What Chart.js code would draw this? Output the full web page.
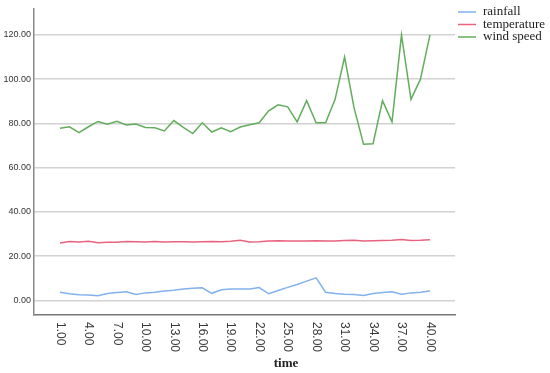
<!DOCTYPE html>
<html>
<head>
<meta charset="utf-8">
<script src="https://cdn.jsdelivr.net/npm/chart.js@4.4.1/dist/chart.umd.min.js"></script>
<style>
  html, body { margin: 0; padding: 0; background: #fff; }
  canvas { display: block; }
</style>
</head>
<body>
<canvas id="chart" width="550" height="373"></canvas>
<script>
// time steps 1..40
const times = [];
for (let t = 1; t <= 40; t++) times.push(t);

const rainfall = [3.7, 3.0, 2.5, 2.4, 2.1, 3.1, 3.6, 3.9, 2.7, 3.4,
                  3.7, 4.2, 4.6, 5.1, 5.5, 5.7, 3.2, 4.8, 5.1, 5.1,
                  5.2, 5.8, 3.0, 4.5, 5.9, 7.2, 8.7, 10.2, 3.7, 3.1,
                  2.8, 2.7, 2.2, 3.1, 3.6, 3.9, 2.8, 3.4, 3.7, 4.3];

const temperature = [25.9, 26.6, 26.4, 26.7, 26.1, 26.3, 26.3, 26.6, 26.5, 26.4,
                     26.6, 26.4, 26.5, 26.5, 26.4, 26.5, 26.6, 26.5, 26.7, 27.2,
                     26.4, 26.5, 26.8, 27.0, 26.8, 26.9, 26.8, 27.0, 26.9, 26.8,
                     27.1, 27.2, 26.9, 27.0, 27.1, 27.2, 27.5, 27.1, 27.2, 27.4];

const windSpeed = [77.8, 78.5, 75.8, 78.5, 80.9, 79.6, 81.0, 79.3, 79.7, 78.2,
                   78.0, 76.6, 81.3, 78.2, 75.4, 80.3, 76.1, 78.0, 76.3, 78.4,
                   79.4, 80.3, 85.7, 88.4, 87.5, 80.7, 90.3, 80.3, 80.3, 90.9,
                   110.0, 87.0, 70.6, 70.8, 90.3, 80.7, 120.0, 90.9, 100.0, 120.0];

const seriesNames = ["rainfall", "temperature", "wind speed"];
const seriesColors = ["#82b1ee", "#e8637e", "#62ad5c"];
const xTicks = [1, 4, 7, 10, 13, 16, 19, 22, 25, 28, 31, 34, 37, 40];
const yTicks = [0, 20, 40, 60, 80, 100, 120];

function toPoints(values) {
  return values.map((v, i) => ({ x: times[i], y: v }));
}

// x tick labels read top-to-bottom, axis title and legend drawn by hand
const decorations = {
  id: "decorations",
  afterDraw(chart) {
    const ctx = chart.ctx;
    const xs = chart.scales.x;
    const area = chart.chartArea;
    ctx.save();
    ctx.fillStyle = "#3a3a3a";
    ctx.font = "12px 'Liberation Sans', Arial, sans-serif";
    ctx.textAlign = "left";
    ctx.textBaseline = "middle";
    xTicks.forEach(t => {
      const px = xs.getPixelForValue(t);
      ctx.save();
      ctx.translate(px, area.bottom + 7);
      ctx.rotate(Math.PI / 2);
      ctx.fillText(t.toFixed(2), 0, 0);
      ctx.restore();
    });

    ctx.fillStyle = "#222";
    ctx.font = "bold 13px 'Liberation Serif', serif";
    ctx.textAlign = "center";
    ctx.fillText("time", 286, 364);

    ctx.font = "13px 'Liberation Serif', serif";
    ctx.textAlign = "left";
    seriesNames.forEach((name, i) => {
      const y = 12 + i * 12.5;
      ctx.strokeStyle = seriesColors[i];
      ctx.lineWidth = 1.5;
      ctx.beginPath();
      ctx.moveTo(458, y);
      ctx.lineTo(476, y);
      ctx.stroke();
      ctx.fillStyle = "#222";
      ctx.fillText(name, 483, y);
    });
    ctx.restore();
  }
};

new Chart(document.getElementById("chart"), {
  type: "line",
  data: {
    datasets: [rainfall, temperature, windSpeed].map((vals, i) => ({
      label: seriesNames[i],
      data: toPoints(vals),
      borderColor: seriesColors[i],
      backgroundColor: seriesColors[i],
      borderWidth: 1.5,
      pointRadius: 0,
      tension: 0,
    })),
  },
  options: {
    responsive: false,
    animation: false,
    layout: { padding: { top: 5, right: 95, left: 0, bottom: 0 } },
    plugins: {
      legend: { display: false },
      tooltip: { enabled: false },
    },
    scales: {
      x: {
        type: "linear",
        min: -1.74,
        max: 42.64,
        grid: { display: false, drawTicks: false },
        border: { display: true, color: "#777", width: 1.5 },
        ticks: { display: false },
        afterFit(scale) { scale.height = 58; },
      },
      y: {
        min: -6.6,
        max: 132,
        afterBuildTicks(scale) {
          scale.ticks = yTicks.map(v => ({ value: v }));
        },
        grid: { color: "#d2d2d2", lineWidth: 1.5, drawTicks: false },
        border: { display: true, color: "#888", width: 1.5 },
        ticks: {
          padding: 3,
          color: "#333",
          font: { family: "'Liberation Sans', Arial, sans-serif", size: 9 },
          callback: v => Number(v).toFixed(2),
        },
        afterFit(scale) { scale.width = 34; },
      },
    },
  },
  plugins: [decorations],
});
</script>
</body>
</html>
